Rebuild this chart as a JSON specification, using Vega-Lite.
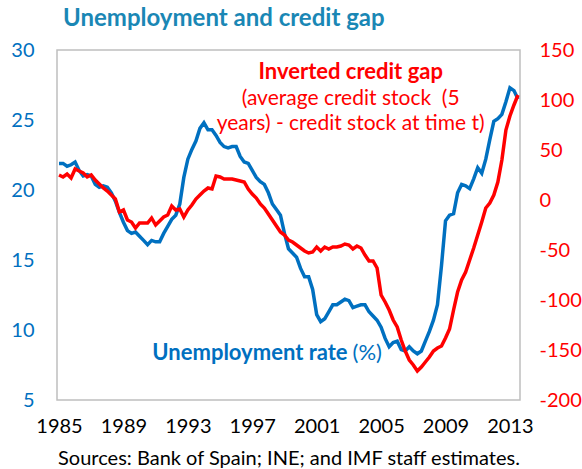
{
  "$schema": "https://vega.github.io/schema/vega-lite/v6.json",
  "width": 463,
  "height": 350,
  "autosize": {"type": "none"},
  "padding": {"left": 57, "top": 50, "right": 62, "bottom": 69},
  "background": "white",
  "config": {"font": "Lato", "view": {"stroke": "#BFBFBF", "strokeWidth": 1.5}},
  "title": {"text": "Unemployment and credit gap", "anchor": "start", "frame": "group", "dx": 6, "offset": 9, "fontSize": 24, "fontWeight": "bold", "color": "#1A87B5", "font": "Lato"},
  "data": {"values": [
    {"t":1985,"u":21.9,"c":25},{"t":1985.25,"u":21.9,"c":23},{"t":1985.5,"u":21.7,"c":26},{"t":1985.75,"u":21.8,"c":22},
    {"t":1986,"u":22.0,"c":31},{"t":1986.25,"u":21.4,"c":29},{"t":1986.5,"u":21.0,"c":27},{"t":1986.75,"u":21.1,"c":23},
    {"t":1987,"u":21.0,"c":25},{"t":1987.25,"u":20.4,"c":20},{"t":1987.5,"u":20.2,"c":16},{"t":1987.75,"u":20.3,"c":12},
    {"t":1988,"u":20.2,"c":9},{"t":1988.25,"u":19.8,"c":5},{"t":1988.5,"u":19.2,"c":1},{"t":1988.75,"u":18.4,"c":-12},
    {"t":1989,"u":17.7,"c":-10},{"t":1989.25,"u":17.1,"c":-20},{"t":1989.5,"u":16.9,"c":-22},{"t":1989.75,"u":17.0,"c":-28},
    {"t":1990,"u":16.7,"c":-23},{"t":1990.25,"u":16.4,"c":-23},{"t":1990.5,"u":16.1,"c":-23},{"t":1990.75,"u":16.4,"c":-18},
    {"t":1991,"u":16.3,"c":-25},{"t":1991.25,"u":16.3,"c":-21},{"t":1991.5,"u":16.9,"c":-17},{"t":1991.75,"u":17.4,"c":-15},
    {"t":1992,"u":17.9,"c":-6},{"t":1992.25,"u":18.2,"c":-10},{"t":1992.5,"u":19.0,"c":-9},{"t":1992.75,"u":20.9,"c":-17},
    {"t":1993,"u":22.2,"c":-10},{"t":1993.25,"u":22.9,"c":-5},{"t":1993.5,"u":23.5,"c":1},{"t":1993.75,"u":24.4,"c":5},
    {"t":1994,"u":24.8,"c":9},{"t":1994.25,"u":24.3,"c":12},{"t":1994.5,"u":24.3,"c":11},{"t":1994.75,"u":23.9,"c":24},
    {"t":1995,"u":23.4,"c":23},{"t":1995.25,"u":23.1,"c":21},{"t":1995.5,"u":23.0,"c":21},{"t":1995.75,"u":23.1,"c":21},
    {"t":1996,"u":23.1,"c":20},{"t":1996.25,"u":22.4,"c":19},{"t":1996.5,"u":22.0,"c":18},{"t":1996.75,"u":21.9,"c":11},
    {"t":1997,"u":21.4,"c":6},{"t":1997.25,"u":20.9,"c":2},{"t":1997.5,"u":20.6,"c":-4},{"t":1997.75,"u":20.4,"c":-8},
    {"t":1998,"u":19.8,"c":-14},{"t":1998.25,"u":19.0,"c":-20},{"t":1998.5,"u":18.6,"c":-26},{"t":1998.75,"u":18.2,"c":-32},
    {"t":1999,"u":16.9,"c":-35},{"t":1999.25,"u":15.8,"c":-40},{"t":1999.5,"u":15.5,"c":-42},{"t":1999.75,"u":15.2,"c":-45},
    {"t":2000,"u":14.4,"c":-48},{"t":2000.25,"u":13.8,"c":-51},{"t":2000.5,"u":13.8,"c":-53},{"t":2000.75,"u":12.9,"c":-52},
    {"t":2001,"u":11.1,"c":-47},{"t":2001.25,"u":10.6,"c":-51},{"t":2001.5,"u":10.8,"c":-47},{"t":2001.75,"u":11.3,"c":-49},
    {"t":2002,"u":11.8,"c":-47},{"t":2002.25,"u":11.8,"c":-47},{"t":2002.5,"u":12.0,"c":-46},{"t":2002.75,"u":12.2,"c":-44},
    {"t":2003,"u":12.1,"c":-45},{"t":2003.25,"u":11.6,"c":-49},{"t":2003.5,"u":11.7,"c":-46},{"t":2003.75,"u":11.8,"c":-48},
    {"t":2004,"u":11.8,"c":-55},{"t":2004.25,"u":11.3,"c":-61},{"t":2004.5,"u":11.0,"c":-61},{"t":2004.75,"u":10.7,"c":-68},
    {"t":2005,"u":10.2,"c":-95},{"t":2005.25,"u":9.4,"c":-102},{"t":2005.5,"u":8.8,"c":-110},{"t":2005.75,"u":9.1,"c":-120},
    {"t":2006,"u":9.2,"c":-127},{"t":2006.25,"u":8.6,"c":-140},{"t":2006.5,"u":8.5,"c":-151},{"t":2006.75,"u":8.8,"c":-160},
    {"t":2007,"u":8.5,"c":-165},{"t":2007.25,"u":8.3,"c":-171},{"t":2007.5,"u":8.5,"c":-167},{"t":2007.75,"u":9.2,"c":-162},
    {"t":2008,"u":9.9,"c":-157},{"t":2008.25,"u":10.7,"c":-151},{"t":2008.5,"u":11.8,"c":-148},{"t":2008.75,"u":14.6,"c":-146},
    {"t":2009,"u":17.8,"c":-138},{"t":2009.25,"u":18.2,"c":-129},{"t":2009.5,"u":18.3,"c":-110},{"t":2009.75,"u":19.8,"c":-92},
    {"t":2010,"u":20.4,"c":-80},{"t":2010.25,"u":20.3,"c":-72},{"t":2010.5,"u":20.1,"c":-60},{"t":2010.75,"u":20.8,"c":-48},
    {"t":2011,"u":21.6,"c":-35},{"t":2011.25,"u":21.2,"c":-22},{"t":2011.5,"u":22.2,"c":-8},{"t":2011.75,"u":23.6,"c":-3},
    {"t":2012,"u":24.9,"c":5},{"t":2012.25,"u":25.1,"c":18},{"t":2012.5,"u":25.4,"c":40},{"t":2012.75,"u":26.3,"c":70},
    {"t":2013,"u":27.3,"c":84},{"t":2013.25,"u":27.1,"c":95},{"t":2013.5,"u":26.5,"c":105}
  ]},
  "layer": [
    {
      "layer": [
        {
          "mark": {"type": "line", "color": "#0070C0", "strokeWidth": 3.5},
          "encoding": {
            "x": {"field": "t", "type": "quantitative",
              "scale": {"domain": [1984.875, 2013.625], "nice": false, "zero": false},
              "axis": {"values": [1985, 1989, 1993, 1997, 2001, 2005, 2009, 2013], "format": "d", "labelFontSize": 20, "labelColor": "#000000", "labelFlush": false, "domain": false, "ticks": false, "grid": false, "labelPadding": 16,
                "title": "Sources: Bank of Spain; INE; and IMF staff estimates.", "titleFontWeight": "normal", "titleFontSize": 20, "titleColor": "#000000", "titlePadding": 12, "titleFont": "Lato"}},
            "y": {"field": "u", "type": "quantitative",
              "scale": {"domain": [5, 30], "nice": false, "zero": false},
              "axis": {"values": [5, 10, 15, 20, 25, 30], "labelColor": "#0070C0", "labelFontSize": 20, "labelFlush": false, "domain": false, "ticks": false, "grid": false, "labelPadding": 23, "title": null}}
          }
        },
        {
          "data": {"values": [{}]},
          "mark": {"type": "text", "text": "Inverted credit gap", "fontSize": 22, "fontWeight": "bold", "color": "#FF0000", "align": "center", "baseline": "middle"},
          "encoding": {"x": {"datum": 2003.11, "type": "quantitative"}, "y": {"datum": 28.43, "type": "quantitative"}}
        },
        {
          "data": {"values": [{}]},
          "mark": {"type": "text", "text": "(average credit stock \u00a0(5", "fontSize": 21, "color": "#FF0000", "align": "center", "baseline": "middle"},
          "encoding": {"x": {"datum": 2003.11, "type": "quantitative"}, "y": {"datum": 26.5, "type": "quantitative"}}
        },
        {
          "data": {"values": [{}]},
          "mark": {"type": "text", "text": "years) - credit stock at time t)", "fontSize": 21, "color": "#FF0000", "align": "center", "baseline": "middle"},
          "encoding": {"x": {"datum": 2003.11, "type": "quantitative"}, "y": {"datum": 24.68, "type": "quantitative"}}
        },
        {
          "data": {"values": [{}]},
          "mark": {"type": "text", "text": "Unemployment rate", "fontSize": 22, "fontWeight": "bold", "color": "#0070C0", "align": "right", "baseline": "middle"},
          "encoding": {"x": {"datum": 2002.92, "type": "quantitative"}, "y": {"datum": 8.36, "type": "quantitative"}}
        },
        {
          "data": {"values": [{}]},
          "mark": {"type": "text", "text": "(%)", "fontSize": 22, "color": "#0070C0", "align": "left", "baseline": "middle"},
          "encoding": {"x": {"datum": 2003.23, "type": "quantitative"}, "y": {"datum": 8.36, "type": "quantitative"}}
        }
      ]
    },
    {
      "mark": {"type": "line", "color": "#FF0000", "strokeWidth": 3.5},
      "encoding": {
        "x": {"field": "t", "type": "quantitative"},
        "y": {"field": "c", "type": "quantitative",
          "scale": {"domain": [-200, 150], "nice": false, "zero": false},
          "axis": {"orient": "right", "values": [-200, -150, -100, -50, 0, 50, 100, 150], "labelExpr": "datum.value < 0 ? '-' + abs(datum.value) : '' + datum.value", "labelColor": "#FF0000", "labelFontSize": 20, "labelFlush": false, "domain": false, "ticks": false, "grid": false, "labelPadding": 19, "title": null}}
      }
    }
  ],
  "resolve": {"scale": {"y": "independent"}}
}
